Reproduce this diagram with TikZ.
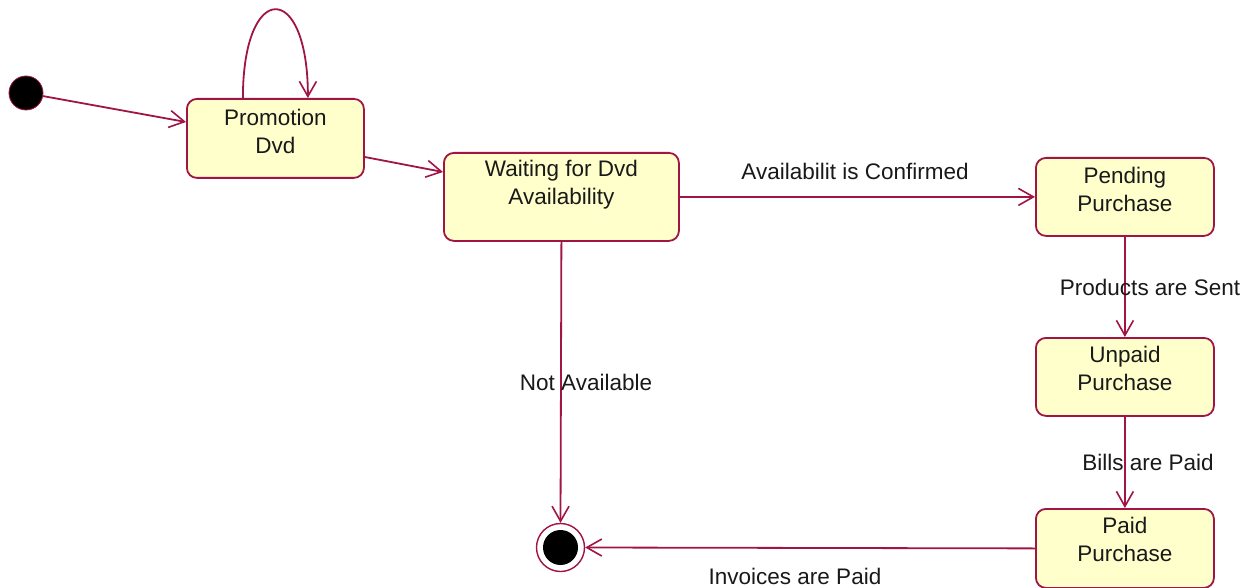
\documentclass[tikz,border=0pt]{standalone}
\usepackage{fontspec}
\setmainfont{Liberation Sans}
\usetikzlibrary{arrows.meta,calc}
\definecolor{umlline}{RGB}{160,20,70}
\definecolor{umlfill}{RGB}{255,255,204}
\definecolor{umltext}{RGB}{25,25,25}
\begin{document}
\begin{tikzpicture}[x=1pt,y=-1pt,
  every node/.style={font=\fontsize{22.5}{28}\selectfont, text=umltext},
  statebox/.style={draw=umlline, fill=umlfill, line width=1.8pt, rounded corners=10pt,
    anchor=north west, align=center, inner sep=0pt},
  trans/.style={draw=umlline, line width=1.8pt, -{Straight Barb[length=15pt,width=17pt,line width=1.6pt]}},
  edgelabel/.style={inner sep=1pt}
]
\useasboundingbox[fill=white] (0,0) rectangle (1260,588);

% states (text height reaches from the last baseline to the top edge)
\node[statebox, minimum width=177pt, text height=55pt, text depth=24pt] (promo) at (186,98) {Promotion\\Dvd};
\node[statebox, minimum width=235pt, text height=52pt, text depth=36pt] (wait) at (443,152) {Waiting for Dvd\\Availability};
\node[statebox, minimum width=178pt, text height=54pt, text depth=24pt] (pending) at (1035,157) {Pending\\Purchase};
\node[statebox, minimum width=178pt, text height=53pt, text depth=25pt] (unpaid) at (1035,337) {Unpaid\\Purchase};
\node[statebox, minimum width=178pt, text height=53pt, text depth=26pt] (paid) at (1035,508) {Paid\\Purchase};

% initial and final pseudo-states
\node[circle, fill=black, draw=umlline, line width=0.8pt, minimum size=34pt, inner sep=0pt] (init) at (26,93) {};
\node[circle, fill=white, draw=umlline, line width=1.4pt, minimum size=48pt, inner sep=0pt] (final) at (560.5,547.5) {};
\node[circle, fill=black, minimum size=35pt, inner sep=0pt] (finaldot) at (final.center) {};

% transitions
\draw[trans] (init) -- ($(promo.north west)+(0,24)$);
\draw[trans] ($(promo.north)+(-32.5,0)$) .. controls +(0,-118) and +(0,-118) .. ($(promo.north)+(32.5,0)$);
\draw[trans] ($(promo.north east)+(0,59)$) -- ($(wait.north west)+(0,20)$);
\draw[trans] (wait.east) -- (pending.west);
\draw[trans] (pending.south) -- (unpaid.north);
\draw[trans] (unpaid.south) -- (paid.north);
\draw[trans] (wait.south) -- (final.north);
\draw[trans] (paid.west) -- (final.east);

% transition labels
\node[edgelabel] (lconf) at (855,171) {Availabilit is Confirmed};
\node[edgelabel] (lsent) at (1150,287) {Products are Sent};
\node[edgelabel] (lnot) at (586,382) {Not Available};
\node[edgelabel] (lbills) at (1148,462) {Bills are Paid};
\node[edgelabel] (linv) at (795,576) {Invoices are Paid};
\end{tikzpicture}
\end{document}
